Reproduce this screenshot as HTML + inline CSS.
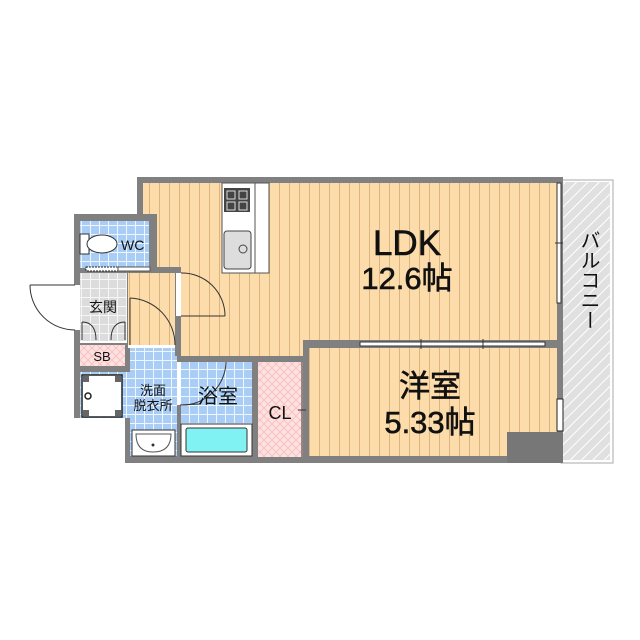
<!DOCTYPE html>
<html><head><meta charset="utf-8"><style>
html,body{margin:0;padding:0;background:#fff;}
svg{display:block;}
text{font-family:"Liberation Sans","Noto Sans CJK JP",sans-serif;fill:#111;}
.b{stroke:#111;stroke-width:0.6;}
</style></head><body>
<svg width="640" height="640" viewBox="0 0 640 640" xmlns="http://www.w3.org/2000/svg">
<defs>
<pattern id="wood" width="10" height="10" patternUnits="userSpaceOnUse">
<rect width="10" height="10" fill="#fcdcaa"/><line x1="9.5" y1="0" x2="9.5" y2="10" stroke="#ddb47e" stroke-width="1"/>
</pattern>
<pattern id="blue" width="9" height="9" patternUnits="userSpaceOnUse">
<rect width="9" height="9" fill="#a9cdf5"/><path d="M0 .5H9M.5 0V9" stroke="#eef6ff" stroke-width="1"/>
</pattern>
<pattern id="gray" width="9" height="9" patternUnits="userSpaceOnUse">
<rect width="9" height="9" fill="#dcdcdc"/><path d="M0 .5H9M.5 0V9" stroke="#f6f6f6" stroke-width="1"/>
</pattern>
<pattern id="pink" width="8" height="8" patternUnits="userSpaceOnUse">
<rect width="8" height="8" fill="#fde0e0"/><path d="M0 0L8 8M8 0L0 8" stroke="#f4b8b8" stroke-width="0.7"/>
</pattern>
<pattern id="hatch" width="8" height="8" patternUnits="userSpaceOnUse" patternTransform="rotate(45)">
<rect width="8" height="8" fill="#e0e0e0"/><line x1="0" y1="0" x2="0" y2="8" stroke="#fff" stroke-width="2"/>
</pattern>
</defs>

<rect x="561" y="180" width="52" height="283" fill="#fff" stroke="#aaa" stroke-width="1"/>
<rect x="563" y="182" width="47" height="278" fill="url(#hatch)"/>

<rect x="137" y="177" width="426" height="286" fill="#808080"/>
<rect x="74" y="214" width="80" height="204" fill="#808080"/>
<rect x="125" y="410" width="20" height="53" fill="#808080"/>

<polygon points="143,183 557,183 557,340 303,340 303,356 181,356 181,267 157,267 157,214 143,214" fill="url(#wood)"/>
<rect x="128" y="273" width="47" height="72" fill="url(#wood)"/>
<rect x="80" y="221" width="69" height="47" fill="url(#blue)"/>
<rect x="80" y="273" width="47" height="69" fill="url(#gray)"/>
<rect x="80" y="345" width="45" height="21" fill="url(#pink)"/>
<rect x="80" y="372" width="50" height="46" fill="url(#blue)"/>
<rect x="82" y="375" width="40" height="42" fill="#fff" stroke="#222" stroke-width="1.5"/>
<rect x="83" y="376" width="6" height="6" fill="#666"/><rect x="115" y="376" width="6" height="6" fill="#666"/>
<rect x="83" y="410" width="6" height="6" fill="#666"/><rect x="115" y="410" width="6" height="6" fill="#666"/>
<circle cx="88" cy="396" r="3" fill="#fff" stroke="#222" stroke-width="1.5"/>
<rect x="130" y="348" width="47" height="108" fill="url(#blue)"/>
<rect x="132" y="430" width="43" height="26" fill="#fff" stroke="#333" stroke-width="1"/>
<path d="M136 434H171Q171 452 153 452Q136 452 136 434Z" fill="#fff" stroke="#555" stroke-width="1"/>
<circle cx="153" cy="445" r="1.5" fill="#333"/>
<rect x="181" y="362" width="71" height="94" fill="url(#blue)"/>
<rect x="181" y="424" width="71" height="32" fill="#fff" stroke="#333" stroke-width="1"/>
<rect x="186" y="428" width="61" height="24" rx="2" fill="#80f2f4" stroke="#333" stroke-width="1"/>
<rect x="258" y="362" width="45" height="95" fill="url(#pink)"/>
<line x1="302" y1="362" x2="302" y2="457" stroke="#333" stroke-width="1"/>
<line x1="298" y1="410" x2="306" y2="410" stroke="#333" stroke-width="1"/>
<rect x="309" y="348" width="248" height="108" fill="url(#wood)"/>
<rect x="507" y="432" width="56" height="31" fill="#777"/>

<rect x="222" y="183" width="47" height="90" fill="#fff" stroke="#555" stroke-width="1"/>
<line x1="255" y1="183" x2="255" y2="273" stroke="#555" stroke-width="1"/>
<rect x="224" y="188" width="26" height="24" fill="#444"/>
<path d="M227 191h8v8h-8zM239 191h8v8h-8zM227 202h8v8h-8zM239 202h8v8h-8z" fill="none" stroke="#ddd" stroke-width="1"/>
<rect x="224" y="231" width="27" height="38" rx="3" fill="#ddd" stroke="#444" stroke-width="1"/>
<circle cx="243" cy="249" r="4" fill="none" stroke="#444" stroke-width="1"/>

<rect x="80" y="234" width="9" height="20" fill="#fff" stroke="#333" stroke-width="1"/>
<ellipse cx="102" cy="244" rx="15" ry="9" fill="#fff" stroke="#333" stroke-width="1"/>
<text x="121" y="250" font-size="14">WC</text>
<rect x="86" y="267" width="34" height="4" fill="#fff" stroke="#222" stroke-width="1" stroke-dasharray="2,1"/>
<rect x="118" y="267" width="32" height="4" fill="#fff" stroke="#555" stroke-width="1"/>

<rect x="74" y="285" width="6" height="45" fill="#fff"/>
<line x1="75" y1="285" x2="30" y2="285" stroke="#333" stroke-width="1"/>
<path d="M30 285A45 45 0 0 0 75 330" fill="none" stroke="#333" stroke-width="1"/>
<text x="103" y="312" font-size="14" text-anchor="middle">玄関</text>
<path d="M82 322v18M125 322v18M82 322Q96 322 96 340M125 322Q111 322 111 340" fill="none" stroke="#333" stroke-width="1"/>
<line x1="80" y1="342" x2="127" y2="342" stroke="#fff" stroke-width="2"/>
<text x="102" y="361" font-size="13" text-anchor="middle">SB</text>

<rect x="175" y="267" width="6" height="89" fill="#808080"/>
<rect x="176" y="273" width="5" height="43" fill="#fff"/>
<line x1="181" y1="316" x2="225" y2="316" stroke="#333" stroke-width="1"/>
<path d="M181 273A43 43 0 0 1 225 316" fill="none" stroke="#333" stroke-width="1"/>
<rect x="128" y="345" width="47" height="3" fill="#fff"/>
<line x1="130" y1="345" x2="130" y2="298" stroke="#333" stroke-width="1"/>
<path d="M130 298A47 47 0 0 1 175 345" fill="none" stroke="#333" stroke-width="1"/>

<rect x="177" y="362" width="4" height="43" fill="#fff"/>
<line x1="180" y1="405" x2="200" y2="404" stroke="#333" stroke-width="1"/>
<path d="M226 362A44 44 0 0 1 181 405" fill="none" stroke="#333" stroke-width="1"/>
<text x="153" y="395" font-size="13" text-anchor="middle">洗面</text>
<text x="153" y="410" font-size="13" text-anchor="middle">脱衣所</text>
<text x="218" y="403" font-size="20" text-anchor="middle">浴室</text>
<text x="280" y="419" font-size="18" text-anchor="middle">CL</text>

<rect x="360" y="342" width="185" height="4" fill="#fff" stroke="#333" stroke-width="1"/>
<line x1="421" y1="339" x2="421" y2="349" stroke="#333"/><line x1="483" y1="339" x2="483" y2="349" stroke="#333"/>
<rect x="557" y="183" width="4" height="120" fill="#fff" stroke="#333" stroke-width="1"/>
<line x1="555" y1="243" x2="563" y2="243" stroke="#333"/>
<rect x="557" y="399" width="6" height="32" fill="#fff" stroke="#222" stroke-width="1"/>

<text class="b" x="407" y="255" font-size="35" text-anchor="middle">LDK</text>
<text class="b" x="407" y="289" font-size="31" text-anchor="middle">12.6帖</text>
<text class="b" x="430" y="397" font-size="31" text-anchor="middle">洋室</text>
<text class="b" x="430" y="433" font-size="31" text-anchor="middle">5.33帖</text>
<text x="588" y="280" font-size="20" text-anchor="middle" style="writing-mode:vertical-rl">バルコニー</text>
</svg>
</body></html>
